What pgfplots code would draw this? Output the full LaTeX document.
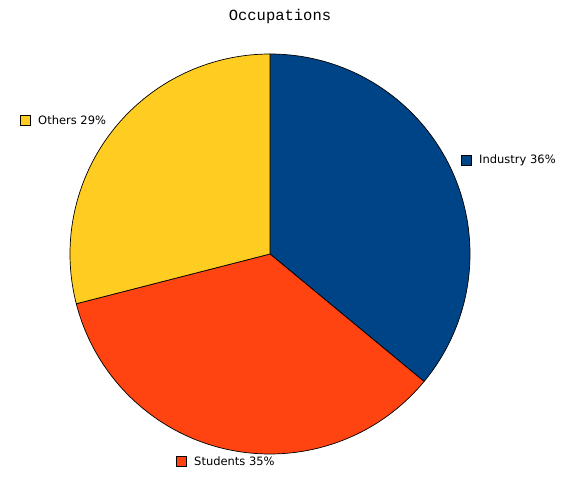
\documentclass[border=0pt]{standalone}
\usepackage{pgfplots}
\usepackage{pgfplotstable}
\pgfplotsset{compat=1.18}
\usepackage{fontspec}
\setmainfont{DejaVu Sans}
\newfontfamily\titlefont{Liberation Mono}

\definecolor{indblue}{HTML}{004488}
\definecolor{stured}{HTML}{FF4411}
\definecolor{othyellow}{HTML}{FFCC22}

% share of each occupation, in percent, in drawing order (clockwise from 12 o'clock)
\pgfplotstableread{
name      share
Industry  36
Students  35
Others    29
}\sharetable

\begin{document}
\begin{tikzpicture}
\begin{axis}[
  scale only axis, width=563pt, height=470pt,
  xmin=0, xmax=563, ymin=0, ymax=470,
  hide axis, clip=false,
]
\pgfplotstablegetelem{0}{share}\of\sharetable \let\sa\pgfplotsretval
\pgfplotstablegetelem{1}{share}\of\sharetable \let\sb\pgfplotsretval
\pgfplotstablegetelem{2}{share}\of\sharetable \let\sc\pgfplotsretval
\pgfmathsetmacro\aA{90}
\pgfmathsetmacro\aB{90-3.6*\sa}
\pgfmathsetmacro\aC{\aB-3.6*\sb}
\pgfmathsetmacro\aD{\aC-3.6*\sc}
\path (axis cs:0,0) rectangle (axis cs:563,470);
\filldraw[fill=indblue, draw=black, line width=0.7pt, line join=round]
  (axis cs:270,216) -- ++(\aA:200pt) arc[start angle=\aA, end angle=\aB, radius=200pt] -- cycle;
\filldraw[fill=stured, draw=black, line width=0.7pt, line join=round]
  (axis cs:270,216) -- ++(\aB:200pt) arc[start angle=\aB, end angle=\aC, radius=200pt] -- cycle;
\filldraw[fill=othyellow, draw=black, line width=0.7pt, line join=round]
  (axis cs:270,216) -- ++(\aC:200pt) arc[start angle=\aC, end angle=\aD, radius=200pt] -- cycle;

\node[font=\titlefont\fontsize{15.5}{18}\selectfont] at (axis cs:280,454) {Occupations};

\filldraw[fill=indblue, draw=black, line width=0.6pt] (axis cs:461,305) rectangle (axis cs:471,315);
\node[anchor=west, font=\fontsize{11.5}{13}\selectfont, inner sep=0pt] at (axis cs:479,310) {Industry \sa\%};
\filldraw[fill=othyellow, draw=black, line width=0.6pt] (axis cs:20,345) rectangle (axis cs:30,355);
\node[anchor=west, font=\fontsize{11.5}{13}\selectfont, inner sep=0pt] at (axis cs:38,350) {Others \sc\%};
\filldraw[fill=stured, draw=black, line width=0.6pt] (axis cs:176,4) rectangle (axis cs:186,14);
\node[anchor=west, font=\fontsize{11.5}{13}\selectfont, inner sep=0pt] at (axis cs:194,9) {Students \sb\%};
\end{axis}
\end{tikzpicture}
\end{document}
